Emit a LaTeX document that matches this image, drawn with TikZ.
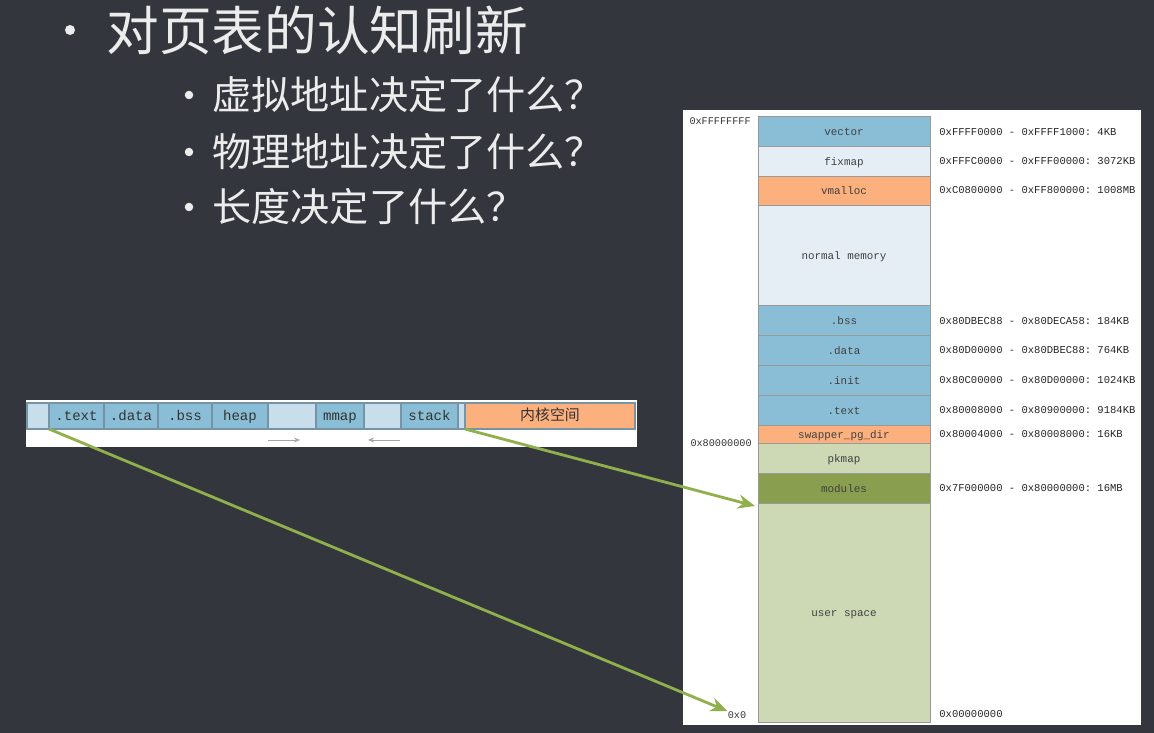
\documentclass[tikz,border=0pt]{standalone}
\usepackage{fontspec}
\setmonofont{Liberation Mono}
\newfontfamily\cjk{Noto Sans CJK SC}
\usetikzlibrary{arrows.meta, positioning}

\definecolor{slidebg}{RGB}{52,54,62}
\definecolor{slidetext}{RGB}{236,236,236}
\definecolor{segblue}{RGB}{137,190,214}
\definecolor{seglight}{RGB}{200,222,235}
\definecolor{segpale}{RGB}{229,238,244}
\definecolor{segorange}{RGB}{251,176,126}
\definecolor{seggreen}{RGB}{205,216,181}
\definecolor{segolive}{RGB}{138,158,80}
\definecolor{segline}{RGB}{118,148,168}
\definecolor{mapgreen}{RGB}{143,176,74}

\begin{document}
\begin{tikzpicture}[
		x=0.02cm, y=-0.02cm,
		% Styles
		seg/.style={draw=segline, line width=0.6pt, inner sep=0pt, outer sep=0pt, minimum height=0.52cm, text height=0.7em, text depth=0.2em, font=\ttfamily\fontsize{8}{9}\selectfont, text=black!80},
		mem/.style={draw=gray!80, line width=0.5pt, inner sep=0pt, outer sep=0pt, minimum width=3.44cm, text height=0.7em, text depth=0.2em, font=\ttfamily\fontsize{6.2}{7}\selectfont, text=black!75},
		addr/.style={inner sep=0pt, font=\ttfamily\fontsize{6}{7}\selectfont, text=black!85},
		hexmark/.style={inner sep=0pt, font=\ttfamily\fontsize{5.8}{7}\selectfont, text=black!80},
		dot/.style={circle, fill=slidetext, inner sep=0pt},
		point/.style={anchor=west, inner sep=0pt, text=slidetext, font=\cjk\fontsize{22.3}{25}\selectfont},
		map/.style={-{Stealth[length=3.4mm, width=2.8mm]}, line width=1.6pt, draw=mapgreen},
		growarrow/.style={-{Stealth[length=1.2mm, width=1mm]}, draw=gray!70, line width=0.5pt}
		]
		
		% =========================================================
		% 0. SLIDE BACKGROUND
		% =========================================================
		\fill[slidebg] (0,0) rectangle (1154,733);
		
		% =========================================================
		% 1. BULLET POINTS
		% =========================================================
		\node[dot, minimum size=0.2cm] (b0) at (70,30) {};
		\node[point, font=\cjk\fontsize{30}{36}\selectfont] (title) at (106,30) {对页表的认知刷新};
		
		\node[dot, minimum size=0.17cm] (b1) at (189,95) {};
		\node[point] (q1) at (212,95) {虚拟地址决定了什么？};
		\node[dot, minimum size=0.17cm] (b2) at (189,152) {};
		\node[point] (q2) at (212,152) {物理地址决定了什么？};
		\node[dot, minimum size=0.17cm] (b3) at (189,207) {};
		\node[point] (q3) at (212,207) {长度决定了什么？};
		
		% =========================================================
		% 2. LEFT: process address space bar
		% =========================================================
		\fill[white] (26,400) rectangle (637,447);
		
		\node[seg, fill=seglight, minimum width=0.44cm] (pad) at (38,416) {};
		\node[seg, fill=segblue, minimum width=1.10cm] (text) at (76.5,416) {.text};
		\node[seg, fill=segblue, minimum width=1.08cm] (data) at (131,416) {.data};
		\node[seg, fill=segblue, minimum width=1.08cm] (bss) at (185,416) {.bss};
		\node[seg, fill=segblue, minimum width=1.12cm] (heap) at (240,416) {heap};
		\node[seg, fill=seglight, minimum width=0.96cm] (gapa) at (292,416) {};
		\node[seg, fill=segblue, minimum width=0.96cm] (mmap) at (340,416) {mmap};
		\node[seg, fill=seglight, minimum width=0.74cm] (gapb) at (382.5,416) {};
		\node[seg, fill=segblue, minimum width=1.14cm] (stack) at (429.5,416) {stack};
		\node[seg, fill=seglight, minimum width=0.14cm] (gapc) at (461.5,416) {};
		\node[seg, fill=segorange, minimum width=3.40cm, font=\cjk\fontsize{8.5}{9}\selectfont] (kern) at (550,416) {内核空间};
		
		% growth directions
		\coordinate (heapgrow) at (268,440);
		\coordinate (heapend) at (300,440);
		\coordinate (stackgrow) at (400,440);
		\coordinate (stackend) at (368,440);
		\draw[growarrow] (heapgrow) -- (heapend);
		\draw[growarrow] (stackgrow) -- (stackend);
		
		% =========================================================
		% 3. RIGHT: kernel memory map
		% =========================================================
		\fill[white] (683,110) rectangle (1141,725);
		
		\node[mem, fill=segblue, minimum height=0.60cm] (vector) at (844,131) {vector};
		\node[mem, fill=segpale, minimum height=0.60cm] (fixmap) at (844,161) {fixmap};
		\node[mem, fill=segorange, minimum height=0.58cm] (vmalloc) at (844,190.5) {vmalloc};
		\node[mem, fill=segpale, minimum height=2.00cm] (normal) at (844,255) {normal memory};
		\node[mem, fill=segblue, minimum height=0.60cm] (kbss) at (844,320) {.bss};
		\node[mem, fill=segblue, minimum height=0.60cm] (kdata) at (844,350) {.data};
		\node[mem, fill=segblue, minimum height=0.60cm] (kinit) at (844,380) {.init};
		\node[mem, fill=segblue, minimum height=0.60cm] (ktext) at (844,410) {.text};
		\node[mem, fill=segorange, minimum height=0.36cm] (swapper) at (844,434) {swapper\_pg\_dir};
		\node[mem, fill=seggreen, minimum height=0.60cm] (pkmap) at (844,458) {pkmap};
		\node[mem, fill=segolive, minimum height=0.60cm] (modules) at (844,488) {modules};
		\node[mem, fill=seggreen, minimum height=4.38cm] (user) at (844,612.5) {user space};
		
		% boundary addresses
		\node[hexmark, anchor=east] (top) at (751,121) {0xFFFFFFFF};
		\node[hexmark, anchor=east] (mid) at (752,443) {0x80000000};
		\node[hexmark] (zero) at (737,715) {0x0};
		
		% region ranges
		\node[addr, anchor=west] (rvector) at (939,132) {0xFFFF0000 - 0xFFFF1000: 4KB};
		\node[addr, anchor=west] (rfixmap) at (939,161) {0xFFFC0000 - 0xFFF00000: 3072KB};
		\node[addr, anchor=west] (rvmalloc) at (939,190) {0xC0800000 - 0xFF800000: 1008MB};
		\node[addr, anchor=west] (rbss) at (939,321) {0x80DBEC88 - 0x80DECA58: 184KB};
		\node[addr, anchor=west] (rdata) at (939,350) {0x80D00000 - 0x80DBEC88: 764KB};
		\node[addr, anchor=west] (rinit) at (939,380) {0x80C00000 - 0x80D00000: 1024KB};
		\node[addr, anchor=west] (rtext) at (939,410) {0x80008000 - 0x80900000: 9184KB};
		\node[addr, anchor=west] (rswapper) at (939,434) {0x80004000 - 0x80008000: 16KB};
		\node[addr, anchor=west] (rmodules) at (939,488) {0x7F000000 - 0x80000000: 16MB};
		\node[addr, anchor=west] (rzero) at (939,714) {0x00000000};
		
		% =========================================================
		% 4. MAPPINGS
		% =========================================================
		\coordinate (usertip) at (755,506);
		\draw[map] (text.south west) -- (zero.north west);
		\draw[map] (kern.south west) -- (usertip);
		
	\end{tikzpicture}
\end{document}
